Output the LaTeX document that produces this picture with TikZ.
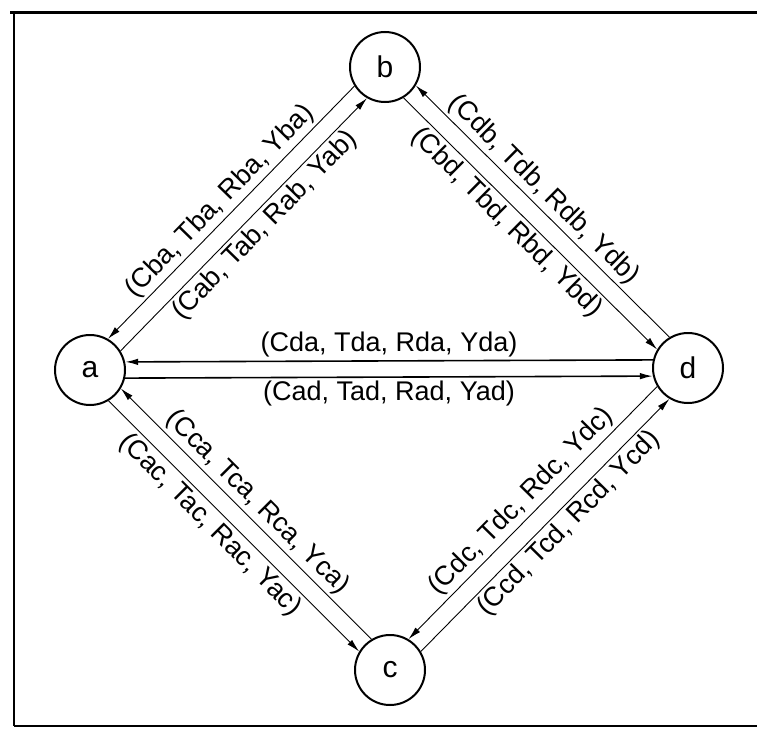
\documentclass[tikz,border=0pt]{standalone}
\usepackage{fontspec}
\setmainfont{Liberation Sans}
\usetikzlibrary{arrows.meta}
\begin{document}
\begin{tikzpicture}[x=1pt,y=-1pt,
  state/.style={circle,draw,line width=2pt,minimum size=70pt,inner sep=0pt,
    font=\fontsize{30}{32}\selectfont},
  link/.style={line width=0.9pt,-{Latex[length=13pt,width=6.5pt]}},
  hlink/.style={line width=1.6pt,-{Latex[length=13pt,width=6.5pt]}},
  lab/.style={font=\fontsize{27}{29}\selectfont,inner sep=3pt},
  frame/.style={line width=2pt}]
  \useasboundingbox (0,0) rectangle (757,728);
  % open frame round the graph
  \draw[frame,line width=3pt] (10,12) -- (757,12);
  \draw[frame] (14,12) -- (14,726);
  \draw[frame] (14,726) -- (757,726);

  % the four states
  \node[state] (a) at (90,370) {a};
  \node[state] (b) at (385,67) {b};
  \node[state] (c) at (390,670) {c};
  \node[state] (d) at (688,368) {d};

  % a -- b
  \draw[link] (b.212) -- node[lab,sloped,above,pos=0.5] {(Cba, Tba, Rba, Yba)} (a.60);
  \draw[link] (a.32) -- node[lab,sloped,below,pos=0.54] {(Cab, Tab, Rab, Yab)} (b.240);
  % b -- d
  \draw[link] (d.121) -- node[lab,sloped,above,pos=0.54] {(Cdb, Tdb, Rdb, Ydb)} (b.-31);
  \draw[link] (b.-59) -- node[lab,sloped,below,pos=0.45] {(Cbd, Tbd, Rbd, Ybd)} (d.149);
  % a -- d
  \draw[hlink] (d.167) -- node[lab,above] {(Cda, Tda, Rda, Yda)} (a.13);
  \draw[hlink] (a.-13) -- node[lab,below] {(Cad, Tad, Rad, Yad)} (d.193);
  % a -- c
  \draw[link] (c.121) -- node[lab,sloped,above,pos=0.5] {(Cca, Tca, Rca, Yca)} (a.-31);
  \draw[link] (a.-59) -- node[lab,sloped,below,pos=0.45] {(Cac, Tac, Rac, Yac)} (c.149);
  % c -- d
  \draw[link] (d.211) -- node[lab,sloped,above,pos=0.5] {(Cdc, Tdc, Rdc, Ydc)} (c.59);
  \draw[link] (c.31) -- node[lab,sloped,below,pos=0.55] {(Ccd, Tcd, Rcd, Ycd)} (d.239);
\end{tikzpicture}
\end{document}
